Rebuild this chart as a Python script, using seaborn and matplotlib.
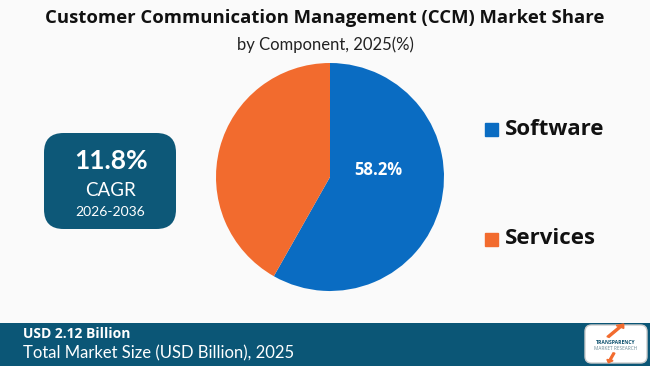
import matplotlib
matplotlib.use("Agg")
import matplotlib.pyplot as plt
import seaborn as sns
from matplotlib.patches import FancyBboxPatch, Rectangle, FancyArrow, Arc

categories = ["Software", "Services"]
shares = [58.2, 41.8]
colors = ["#0a6cc2", "#f26b2e"]
title = "Customer Communication Management (CCM) Market Share"
subtitle = "by Component, 2025(%)"
cagr_value = "11.8%"
cagr_label = "CAGR"
cagr_period = "2026-2036"
market_value = "USD 2.12 Billion"
market_label = "Total Market Size (USD Billion), 2025"

sns.set_theme(style="white")
plt.rcParams['font.family'] = ['Open Sans', 'DejaVu Sans']

W, H = 650, 366
fig = plt.figure(figsize=(6.5, 3.66), dpi=100)
fig.patch.set_facecolor("#fafafa")

def fx(x): return x / W
def fy(y): return 1 - y / H

# Pie
r = 114
cx, cy = 330, 177
ax = fig.add_axes([fx(cx - r), fy(cy + r), 2 * r / W, 2 * r / H])
wedges, _ = ax.pie(shares, colors=colors, startangle=90, counterclock=False,
                   wedgeprops=dict(linewidth=0))
ax.set_aspect('auto')
ax.set_xlim(-1, 1); ax.set_ylim(-1, 1)
ax.axis('off')
ax.text(0.42, 0.06, f"{shares[0]}%", color="white", fontsize=12, fontweight="bold",
        ha="center", va="center")

# Title
fig.text(0.5, fy(18), title, ha="center", va="center", fontsize=13.3,
         fontweight="bold", color="#111111")
fig.text(0.5, fy(45), subtitle, ha="center", va="center", fontsize=12,
         color="#222222", family=['Lato', 'DejaVu Sans'])

# Legend
for i, (cat, col) in enumerate(zip(categories, colors)):
    ly = [129, 239][i]
    fig.patches.append(Rectangle((fx(485), fy(ly + 7)), 13 / W, 13 / H,
                                 transform=fig.transFigure, color=col))
    fig.text(fx(505), fy(ly), cat, ha="left", va="center", fontsize=16,
             fontweight="bold", color="#111111")

# CAGR box
box = FancyBboxPatch((fx(44), fy(229)), 132 / W, 96 / H,
                     boxstyle="round,pad=0,rounding_size=0.03",
                     transform=fig.transFigure, facecolor="#0d5878", edgecolor="none",
                     mutation_aspect=W / H)
fig.patches.append(box)
fig.text(fx(111), fy(161), cagr_value, ha="center", va="center", fontsize=19,
         fontweight="bold", color="white", family=['Lato', 'DejaVu Sans'])
fig.text(fx(110), fy(190), cagr_label, ha="center", va="center", fontsize=13.5,
         color="white", family=['Lato', 'DejaVu Sans'])
fig.text(fx(110), fy(212), cagr_period, ha="center", va="center", fontsize=10,
         color="white", family=['Lato', 'DejaVu Sans'])

# Bottom band
fig.patches.append(Rectangle((0, 0), 1, 43 / H, transform=fig.transFigure,
                             facecolor="#0b5676", edgecolor="none"))
fig.text(fx(23), fy(334), market_value, ha="left", va="center", fontsize=10,
         fontweight="bold", color="white")
fig.text(fx(23), fy(353), market_label, ha="left", va="center", fontsize=12,
         color="white", family=['Lato', 'DejaVu Sans'])

# Logo
logo = FancyBboxPatch((fx(585), fy(363)), 62 / W, 38 / H,
                      boxstyle="round,pad=0,rounding_size=0.01",
                      transform=fig.transFigure, facecolor="white", edgecolor="#cccccc",
                      mutation_aspect=W / H)
fig.patches.append(logo)
fig.patches.append(FancyArrow(fx(608), fy(337), 12 / W, 10 / H, width=0.004,
                              head_width=0.014, head_length=0.01,
                              transform=fig.transFigure, color="#f26b2e"))
fig.text(fx(616), fy(343), "TRANSPARENCY", ha="center", va="center", fontsize=3.6,
         fontweight="bold", color="#0b4f6c")
fig.text(fx(616), fy(349), "MARKET RESEARCH", ha="center", va="center", fontsize=3.4,
         color="#6a8a96")
fig.patches.append(FancyArrow(fx(614), fy(353), -4 / W, -7 / H, width=0.003,
                              head_width=0.01, head_length=0.008,
                              transform=fig.transFigure, color="#f26b2e"))

fig.savefig("out.png", dpi=100, facecolor=fig.get_facecolor())
